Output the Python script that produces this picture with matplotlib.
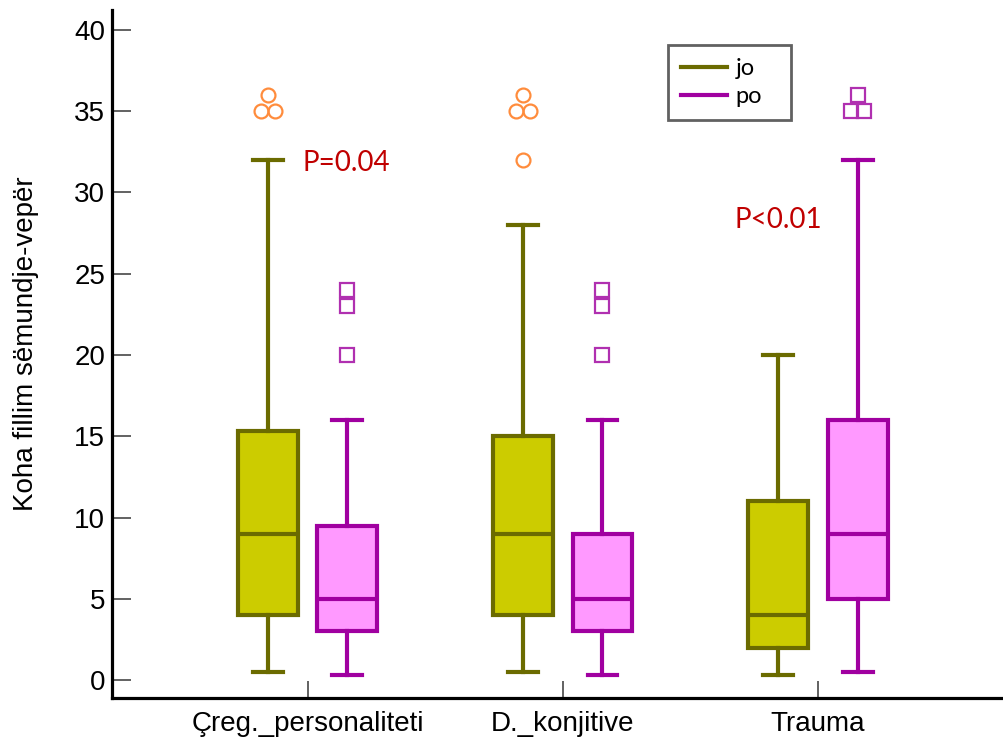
import matplotlib
matplotlib.use("Agg")
import matplotlib.pyplot as plt
from matplotlib.lines import Line2D
from matplotlib.transforms import offset_copy

categories = ["Çreg._personaliteti", "D._konjitive", "Trauma"]
groups = ["jo", "po"]

# five-number summaries per category: (whislo, q1, med, q3, whishi)
jo_stats = [
    (0.5, 4.0, 9.0, 15.3, 32.0),
    (0.5, 4.0, 9.0, 15.0, 28.0),
    (0.3, 2.0, 4.0, 11.0, 20.0),
]
po_stats = [
    (0.3, 3.0, 5.0, 9.5, 16.0),
    (0.3, 3.0, 5.0, 9.0, 16.0),
    (0.5, 5.0, 9.0, 16.0, 32.0),
]
jo_outliers = [[35, 35, 36], [32, 35, 35, 36], []]
po_outliers = [[20, 23, 24], [20, 23, 24], [35, 35, 36]]

p_labels = ["P=0.04", None, "P<0.01"]
p_positions = [(0.98, 31.8), None, (2.675, 28.3)]

y_ticks = [0, 5, 10, 15, 20, 25, 30, 35, 40]
y_label = "Koha fillim sëmundje-vepër"

jo_edge, jo_fill = "#6B6B00", "#CCCC00"
po_edge, po_fill = "#A000A0", "#FF99FF"
circle_col = "#FF8C3C"
square_col = "#B030B0"

fig = plt.figure(figsize=(10.04, 7.46), dpi=100)
ax = fig.add_axes([0.1116, 0.0643, 0.886, 0.922])

offset = 0.156
width = 0.234


def to_bxp(stats):
    return [dict(whislo=s[0], q1=s[1], med=s[2], q3=s[3], whishi=s[4], fliers=[])
            for s in stats]


def draw(stats, shift, edge, fill):
    pos = [i + 1 + shift for i in range(len(stats))]
    ax.bxp(to_bxp(stats), positions=pos, widths=width, patch_artist=True,
           showfliers=False, capwidths=width / 2,
           boxprops=dict(facecolor=fill, edgecolor=edge, linewidth=3),
           medianprops=dict(color=edge, linewidth=3),
           whiskerprops=dict(color=edge, linewidth=3),
           capprops=dict(color=edge, linewidth=3))
    return pos


def draw_outliers(values_list, positions, marker, color, ms):
    # repeated values are spread side by side
    for x, vals in zip(positions, values_list):
        counts = {}
        for v in vals:
            counts[v] = counts.get(v, 0) + 1
        for v, n in counts.items():
            for k in range(n):
                dx = (k - (n - 1) / 2) * ms
                tr = offset_copy(ax.transData, fig=fig, x=dx, y=0, units="points")
                ax.plot([x], [v], marker=marker, ms=ms, mfc="none", mec=color,
                        mew=1.6, ls="none", transform=tr, clip_on=False)


jo_pos = draw(jo_stats, -offset, jo_edge, jo_fill)
po_pos = draw(po_stats, offset, po_edge, po_fill)
draw_outliers(jo_outliers, jo_pos, "o", circle_col, 10)
draw_outliers(po_outliers, po_pos, "s", square_col, 9.5)

for lab, p in zip(p_labels, p_positions):
    if lab:
        ax.text(p[0], p[1], lab, color="#C00000", fontsize=20, family="Lato",
                ha="left", va="center")

ax.set_xlim(0.234, 3.72)
ax.set_ylim(-1.1, 41.2)
ax.set_xticks([1, 2, 3])
ax.set_xticklabels(categories, fontsize=20, family="Liberation Sans")
ax.set_yticks(y_ticks)
ax.set_yticklabels([str(t) for t in y_ticks], fontsize=20, family="Liberation Sans")
ax.set_ylabel(y_label, fontsize=20, family="Liberation Sans")
ax.yaxis.set_label_coords(-0.082, 0.515)
ax.tick_params(axis="y", direction="in", length=14, width=1.3, color="#555555", pad=5)
ax.tick_params(axis="x", direction="in", length=12, width=1.3, color="#555555", pad=9)

for s in ["top", "right"]:
    ax.spines[s].set_visible(False)
for s in ["left", "bottom"]:
    ax.spines[s].set_linewidth(2.3)

handles = [Line2D([0], [0], color=jo_edge, lw=3),
           Line2D([0], [0], color=po_edge, lw=3)]
leg = ax.legend(handles, groups, loc="upper left", mode="expand",
                bbox_to_anchor=(0.6247, 0.749, 0.138, 0.2),
                prop=dict(family="Lato", size=17), fancybox=False, handlelength=1.95,
                borderpad=0.55, labelspacing=0.3, handletextpad=0.38, borderaxespad=0)
leg.get_frame().set_edgecolor("#3A3A3A")
leg.get_frame().set_linewidth(2.0)

fig.savefig("out.png", dpi=100)
